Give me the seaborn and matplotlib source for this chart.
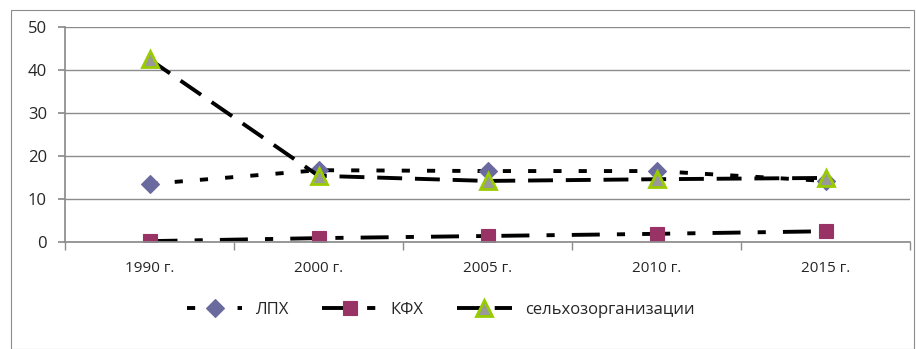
import matplotlib
matplotlib.use("Agg")
import matplotlib.pyplot as plt
import seaborn as sns
import pandas as pd
import numpy as np

years = ["1990 г.", "2000 г.", "2005 г.", "2010 г.", "2015 г."]
lph = [13.5, 16.7, 16.5, 16.5, 14.2]
kfh = [0.2, 0.9, 1.4, 1.9, 2.5]
selhoz = [42.5, 15.4, 14.2, 14.6, 14.9]
series_names = ["ЛПХ", "КФХ", "сельхозорганизации"]

sns.set_theme(style="white")
plt.rcParams['font.family'] = ['Open Sans', 'DejaVu Sans']

fig = plt.figure(figsize=(9.16, 3.49), dpi=100)
# outer chart border
fig.patches.append(plt.Rectangle((11/916, 0.001), 1-11/916-0.002, 1-10/349-0.001,
                                 transform=fig.transFigure, fill=False, edgecolor="#8c8c8c", lw=0.8))
ax = fig.add_axes([65/916, 1-242/349, (910-65)/916, (242-27)/349])

df = pd.DataFrame({"x": np.arange(len(years)), "ЛПХ": lph, "КФХ": kfh, "сельхозорганизации": selhoz})

styles = {
    "ЛПХ": dict(dashes=(2.1, 4.4), marker="D", mfc="#6a6a9e", mec="#6a6a9e", ms=9.5),
    "КФХ": dict(dashes=(7.2, 4.4, 2.1, 4.4), marker="s", mfc="#993366", mec="#993366", ms=10),
    "сельхозорганизации": dict(dashes=(6.4, 3.3), marker="^", mfc="#999999", mec="#99cc00", ms=12, mew=2),
}
for name in series_names:
    st = styles[name]
    sns.lineplot(data=df, x="x", y=name, ax=ax, color="black", lw=2.8,
                 marker=st["marker"], markersize=st["ms"], markerfacecolor=st["mfc"],
                 markeredgecolor=st["mec"], markeredgewidth=st.get("mew", 0.8), label=name)
    ln = ax.get_lines()[-1]
    ln.set_dashes(st["dashes"])

ax.set_xlim(-0.5, 4.5)
ax.set_ylim(0, 50)
ax.set_yticks([0, 10, 20, 30, 40, 50])
ax.set_xticks(range(len(years)))
ax.set_xticklabels(years)
ax.set_xlabel("")
ax.set_ylabel("")
ax.yaxis.grid(True, color="#8c8c8c", lw=1)
ax.set_axisbelow(True)
for s in ["top", "right"]:
    ax.spines[s].set_visible(False)
ax.spines["left"].set_color("#8c8c8c")
ax.spines["bottom"].set_color("#8c8c8c")
ax.tick_params(axis="y", left=True, length=5, color="#8c8c8c", labelsize=12, pad=8)
ax.tick_params(axis="x", bottom=False, labelsize=11, pad=8)
ax.set_xticks(np.arange(-0.5, 5.0, 1.0), minor=True)
ax.tick_params(axis="x", which="minor", bottom=True, length=6, color="#8c8c8c")

leg = ax.legend(loc="upper center", bbox_to_anchor=(0.445, -0.21), ncol=3, frameon=False,
                fontsize=12, handlelength=3.3, columnspacing=2.0, handletextpad=0.8)
fig.savefig("out.png", dpi=100)
